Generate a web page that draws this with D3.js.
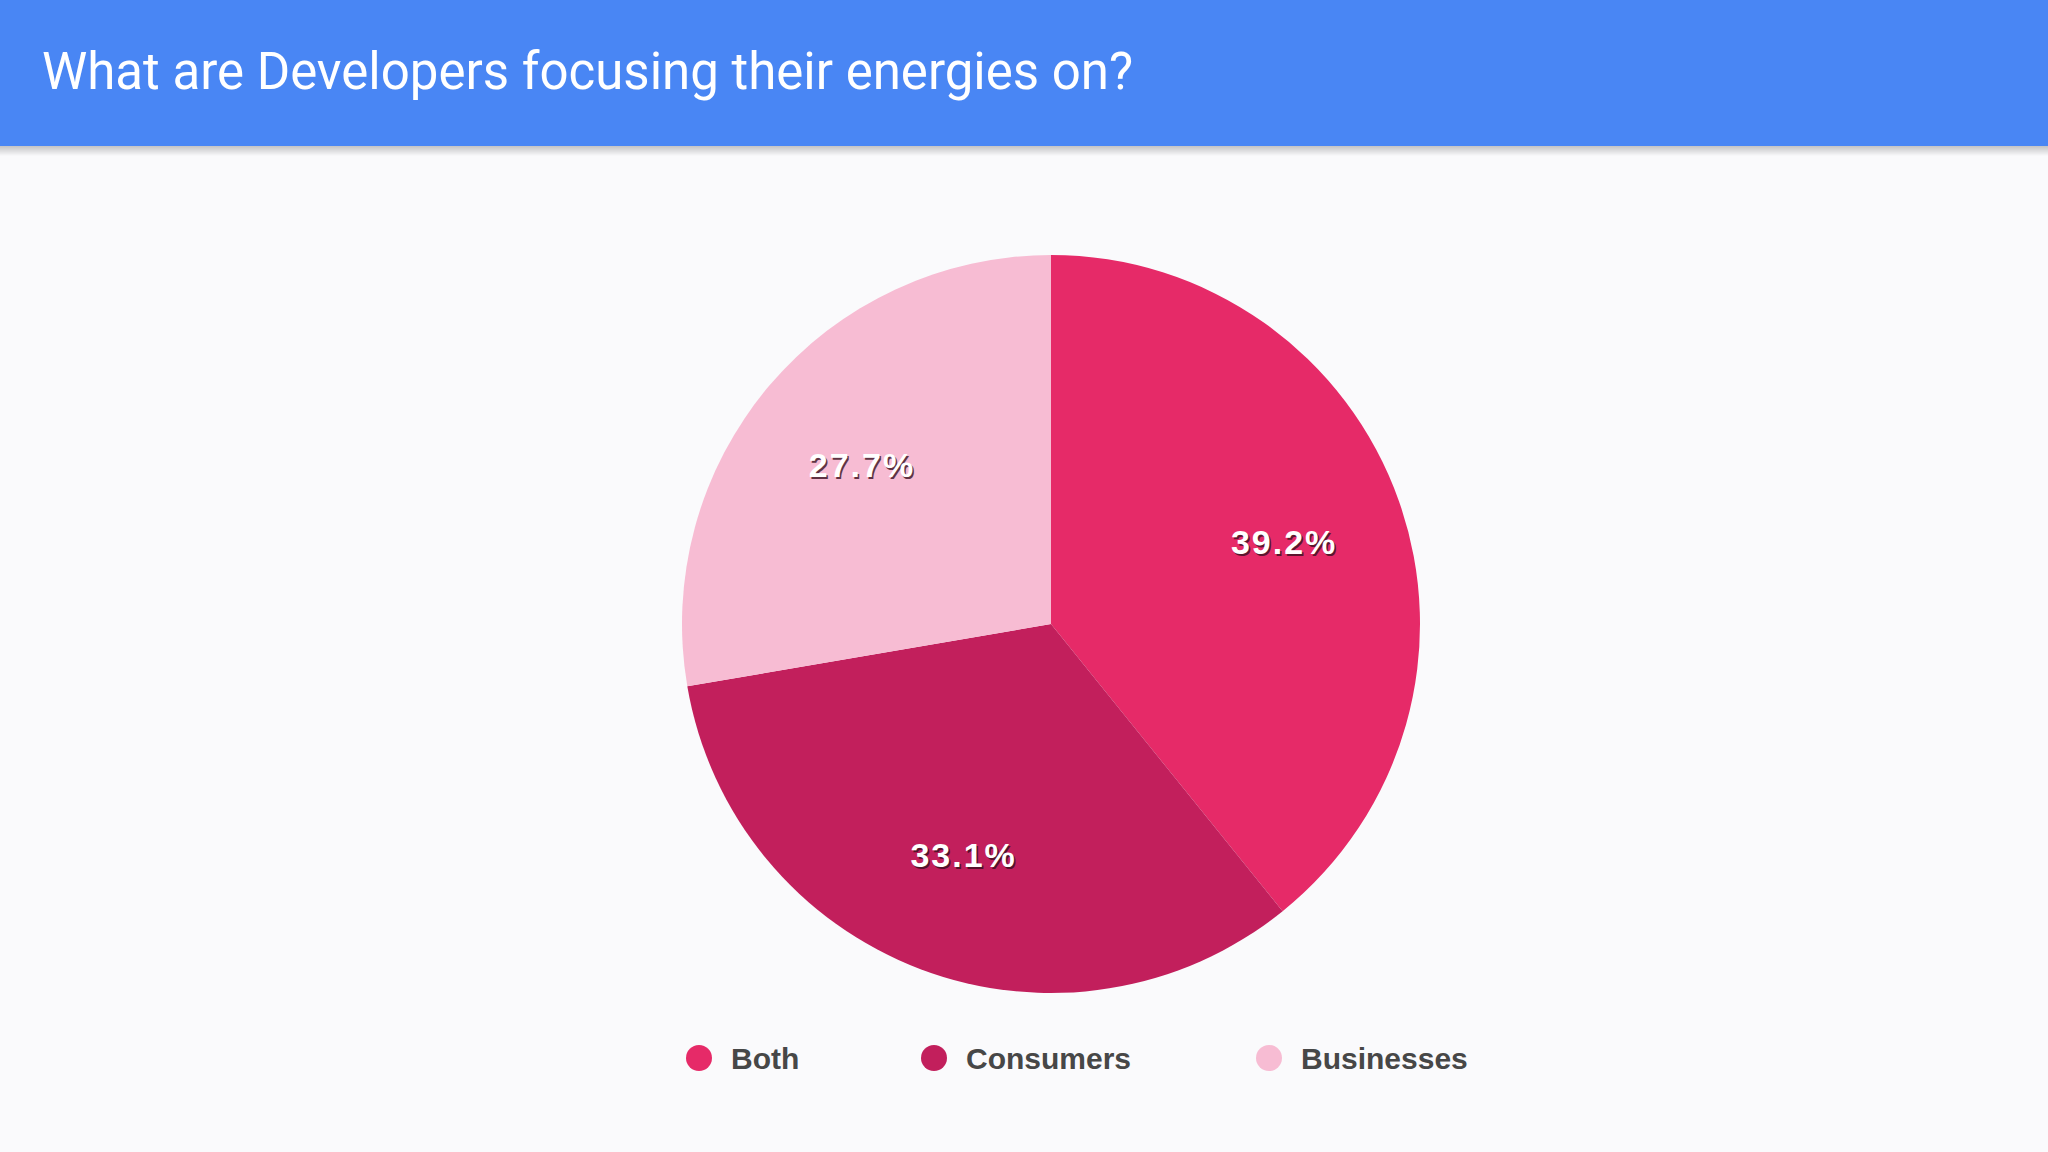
<!DOCTYPE html>
<html>
<head>
<meta charset="utf-8">
<script src="https://cdn.jsdelivr.net/npm/d3@7"></script>
<style>
  html, body { margin: 0; padding: 0; background: #fafafc; }
  #visualization { width: 2048px; height: 1152px; display: block; }
</style>
</head>
<body>
<svg id="visualization" width="2048" height="1152"></svg>
<script>
const title = "What are Developers focusing their energies on?";
const categories = ["Both", "Consumers", "Businesses"];
const values = [39.2, 33.1, 27.7];
const colors = ["#e62a68", "#c21f5c", "#f7bcd3"];

const renderVisualization = () => {
    const width = 2048;
    const svg = d3.select("#visualization");

    const defs = svg.append("defs");
    const grad = defs.append("linearGradient")
        .attr("id", "header-shadow")
        .attr("x1", 0).attr("x2", 0).attr("y1", 0).attr("y2", 1);
    grad.append("stop").attr("offset", "0%").attr("stop-color", "#000").attr("stop-opacity", 0.22);
    grad.append("stop").attr("offset", "100%").attr("stop-color", "#000").attr("stop-opacity", 0);

    // header bar
    svg.append("rect")
        .attr("x", 0).attr("y", 146)
        .attr("width", width).attr("height", 10)
        .attr("fill", "url(#header-shadow)");
    svg.append("rect")
        .attr("x", 0).attr("y", 0)
        .attr("width", width).attr("height", 146)
        .attr("fill", "#4986f4");
    svg.append("text")
        .attr("x", 42).attr("y", 89)
        .attr("fill", "#ffffff")
        .attr("font-family", "Roboto, sans-serif")
        .attr("font-size", 51)
        .text(title);

    // pie
    const data = categories.map((c, i) => ({ name: c, value: values[i] }));
    const color = d3.scaleOrdinal().domain(categories).range(colors);
    const radius = 369;
    const cx = 1051, cy = 624;

    const pie = d3.pie().value(d => d.value).sort(null);
    const arc = d3.arc().innerRadius(0).outerRadius(radius);
    const labelArc = d3.arc().innerRadius(radius * 0.67).outerRadius(radius * 0.67);

    const chartArea = svg.append("g")
        .attr("transform", `translate(${cx}, ${cy})`);

    const arcs = pie(data);
    chartArea.selectAll("path")
        .data(arcs)
        .join("path")
        .attr("d", arc)
        .attr("fill", d => color(d.data.name));

    // labels with a dark drop shadow
    const labelFont = "'Liberation Sans', Arial, sans-serif";
    const drawLabels = (cls, dx, dy, fill, opacity) => {
        chartArea.selectAll(`text.${cls}`)
            .data(arcs)
            .join("text")
            .attr("class", cls)
            .attr("transform", d => {
                const [x, y] = labelArc.centroid(d);
                return `translate(${x + dx}, ${y + dy})`;
            })
            .attr("text-anchor", "middle")
            .attr("dominant-baseline", "central")
            .attr("font-family", labelFont)
            .attr("font-weight", "bold")
            .attr("font-size", 34)
            .attr("letter-spacing", 2)
            .attr("fill", fill)
            .attr("opacity", opacity)
            .text(d => d.data.value.toFixed(1) + "%");
    };
    drawLabels("shadow", 1.5, 2, "#3a1020", 0.8);
    drawLabels("label", 0, 0, "#ffffff", 1);

    // legend
    const legendOffsets = [0, 235, 570];
    const items = svg.append("g").attr("class", "legend")
        .selectAll("g")
        .data(categories)
        .join("g")
        .attr("transform", (d, i) => `translate(${699 + legendOffsets[i]}, 1058)`);
    items.append("circle")
        .attr("r", 13)
        .attr("fill", d => color(d));
    items.append("text")
        .attr("x", 32)
        .attr("dominant-baseline", "central")
        .attr("font-family", labelFont)
        .attr("font-weight", "bold")
        .attr("font-size", 30)
        .attr("fill", "#474747")
        .text(d => d);
};

renderVisualization();
</script>
</body>
</html>
